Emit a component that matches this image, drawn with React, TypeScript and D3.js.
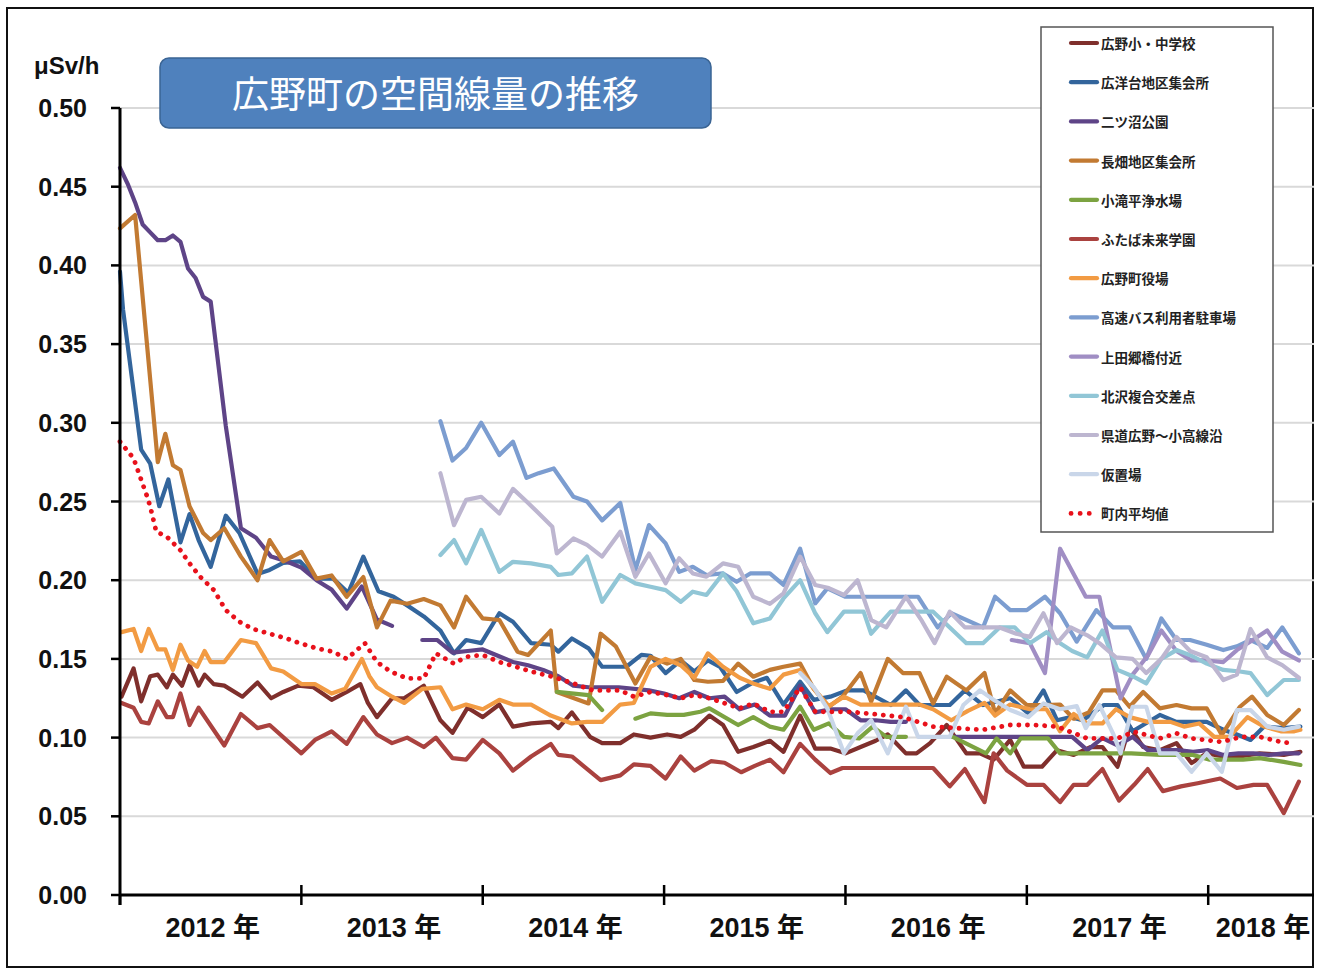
import React from "react";
import * as d3 from "d3";

// months counted from January 2012 (0 = 2012-01)
const YEAR_START_MONTHS = [0, 12, 24, 36, 48, 60, 72];
const YEAR_LABELS = ["2012 年", "2013 年", "2014 年", "2015 年", "2016 年", "2017 年", "2018 年"];
const X_END_MONTH = 79;
const Y_TICKS = [0, 0.05, 0.1, 0.15, 0.2, 0.25, 0.3, 0.35, 0.4, 0.45, 0.5];
const UNIT_LABEL = "μSv/h";
const TITLE = "広野町の空間線量の推移";

const SERIES_NAMES = [
  "広野小・中学校", "広洋台地区集会所", "二ツ沼公園", "長畑地区集会所", "小滝平浄水場",
  "ふたば未来学園", "広野町役場", "高速バス利用者駐車場", "上田郷橋付近", "北沢複合交差点",
  "県道広野～小高線沿", "仮置場", "町内平均値",
];
const SERIES_COLORS = [
  "#7F2F2C", "#33659C", "#5E4487", "#C27A32", "#7CA341", "#AA423F", "#F29B43",
  "#7C9DD0", "#A08EC4", "#91C6D6", "#BDB6D0", "#C9D6E9", "#E8111B",
];

type P = [number, number | null];

const HIRONO_SCHOOL: P[] = [[0.1,0.126],[0.9,0.144],[1.4,0.123],[2,0.139],[2.5,0.140],[3.1,0.132],[3.5,0.140],[4.1,0.133],[4.6,0.146],[5.2,0.133],[5.6,0.140],[6.2,0.134],[6.9,0.133],[8.1,0.126],[9.1,0.135],[10,0.125],[10.8,0.129],[11.8,0.133],[12.8,0.132],[14,0.124],[15,0.129],[15.9,0.134],[16.4,0.122],[17,0.113],[18,0.125],[18.8,0.125],[20.1,0.133],[21.2,0.111],[22,0.103],[23,0.119],[24,0.113],[25.1,0.121],[26,0.107],[27.2,0.109],[28.5,0.110],[29,0.106],[29.9,0.116],[31.1,0.1005],[31.9,0.0965],[33.1,0.0965],[34,0.102],[35.1,0.100],[36.2,0.102],[37.1,0.1005],[38,0.105],[39,0.114],[39.9,0.108],[40.9,0.091],[41.9,0.094],[43,0.098],[43.9,0.091],[45,0.114],[46,0.093],[47,0.093],[48,0.090],[49,0.094],[50,0.098],[50.8,0.102],[52,0.090],[52.7,0.090],[53.6,0.0965],[54.7,0.108],[56,0.090],[56.9,0.090],[57.8,0.086],[58.9,0.0985],[59.8,0.0815],[61,0.0815],[62,0.092],[63.1,0.089],[64.2,0.094],[65,0.094],[66,0.0815],[66.8,0.107],[67.7,0.094],[68.8,0.092],[69.9,0.0965],[70.9,0.0838],[71.9,0.090],[73,0.088],[74.1,0.088],[75.4,0.090],[77,0.089],[78.1,0.091]];

const KOYODAI: P[] = [[0,0.396],[0.2,0.372],[1.4,0.283],[2,0.274],[2.6,0.247],[3.2,0.264],[4,0.224],[4.6,0.242],[5.2,0.2255],[6,0.2085],[7,0.241],[7.9,0.230],[9.1,0.204],[9.9,0.2065],[10.8,0.211],[11.9,0.212],[13,0.201],[14.1,0.201],[15.1,0.192],[16.1,0.215],[17.1,0.193],[18.1,0.1895],[19,0.184],[20.1,0.177],[21.2,0.168],[22.1,0.1535],[22.9,0.162],[23.9,0.160],[25.1,0.179],[26,0.1736],[27.2,0.160],[28.5,0.159],[29,0.1546],[29.9,0.163],[31,0.1567],[31.9,0.145],[33.5,0.145],[34.5,0.1525],[35.1,0.152],[36.1,0.141],[37.1,0.149],[38,0.142],[38.9,0.149],[39.7,0.145],[40.8,0.129],[41.9,0.135],[42.8,0.138],[43.9,0.121],[45,0.1355],[45.9,0.124],[47,0.126],[48.1,0.130],[49.2,0.130],[51,0.1207],[52,0.130],[52.9,0.1207],[54.9,0.1207],[55.9,0.130],[57.1,0.1207],[58.9,0.125],[60.1,0.1154],[61.1,0.130],[62,0.111],[62.9,0.113],[63.7,0.111],[65.1,0.1207],[66,0.1207],[67,0.104],[68.8,0.1144],[69.9,0.110],[70.9,0.110],[71.9,0.110],[73,0.105],[73.9,0.102],[74.8,0.0985],[75.7,0.107],[77,0.106],[78.1,0.107]];

const FUTATSUNUMA: P[] = [[0,0.462],[0.5,0.452],[1,0.440],[1.5,0.426],[2,0.421],[2.5,0.416],[3,0.416],[3.5,0.419],[4,0.415],[4.5,0.398],[5,0.392],[5.5,0.380],[6,0.377],[7,0.298],[8,0.233],[9,0.227],[10,0.215],[11,0.212],[12,0.208],[13,0.200],[14,0.194],[15,0.182],[16,0.196],[17,0.175],[18,0.171],[19,null],[20,0.162],[21,0.162],[22,0.154],[23,0.155],[24,0.156],[25,0.152],[26,0.148],[27,0.146],[28,0.143],[29,0.139],[30,0.133],[31,0.132],[32,0.132],[33,0.132],[35,0.130],[36,0.128],[37,0.125],[38,0.129],[39,0.125],[40,0.126],[41,0.118],[42,0.121],[43,0.114],[44,0.114],[45,0.133],[46,0.116],[47,0.118],[48,0.118],[49,0.111],[50,0.111],[51,0.110],[52,0.110],[53,null],[55.1,0.1005],[57,0.1005],[59,0.1005],[61,0.1005],[63,0.1005],[64,0.092],[65,0.0997],[66,0.095],[67,0.1005],[68,0.092],[69,0.092],[70,0.092],[71,0.091],[72,0.092],[73,0.089],[74,0.090],[75,0.090],[76,0.089],[77,0.090],[78,0.090]];

const NAGAHATA: P[] = [[0,0.4235],[1,0.432],[2.5,0.275],[3,0.293],[3.5,0.273],[4,0.270],[4.6,0.247],[5.5,0.230],[6,0.2255],[6.9,0.233],[8,0.215],[9.1,0.200],[9.9,0.2255],[10.8,0.212],[12,0.218],[13,0.201],[14,0.203],[15,0.1895],[16.1,0.202],[17,0.170],[17.9,0.187],[19,0.185],[20.1,0.188],[21.2,0.184],[22.1,0.170],[22.9,0.1895],[24,0.1757],[25.1,0.1747],[26.3,0.1546],[27,0.1525],[28.5,0.168],[28.9,0.129],[31,0.1217],[31.8,0.166],[32.8,0.158],[34.1,0.1344],[35.1,0.1513],[36.2,0.147],[37.1,0.150],[38,0.1366],[38.9,0.1355],[39.9,0.136],[40.9,0.147],[41.9,0.1387],[43,0.143],[43.9,0.145],[45,0.147],[45.9,0.131],[46.9,0.1196],[47.8,0.126],[49,0.141],[49.7,0.123],[50.8,0.150],[51.8,0.141],[52.9,0.141],[53.8,0.1217],[54.7,0.1387],[56,0.130],[57.2,0.141],[57.9,0.1154],[58.9,0.130],[60,0.1207],[61.1,0.1207],[62.2,0.121],[63.1,0.112],[64.1,0.116],[65,0.130],[65.9,0.130],[66.8,0.1196],[67.7,0.129],[68.8,0.1186],[69.9,0.1207],[70.9,0.1186],[71.9,0.1186],[72.9,0.1017],[74.1,0.1196],[74.9,0.126],[75.9,0.1144],[77,0.108],[78,0.1175]];

const KOTAKIDAIRA: P[] = [[28.9,0.129],[31,0.127],[31.9,0.1175],[33,null],[34.1,0.112],[35.1,0.1154],[36.2,0.1144],[37.3,0.1144],[38.4,0.1164],[39,0.1186],[40.9,0.108],[41.9,0.113],[43,0.107],[43.9,0.105],[45,0.1196],[45.9,0.105],[46.9,0.109],[47.9,0.1005],[48.9,0.0995],[49.8,0.107],[50.7,0.1005],[52,0.1005],[53,null],[55.1,0.1005],[57.3,0.090],[58,0.0995],[58.9,0.090],[59.6,0.0995],[61.4,0.0995],[62.2,0.090],[65,0.090],[66.9,0.090],[68.8,0.089],[71,0.089],[72.1,0.086],[74.3,0.086],[75.4,0.087],[77,0.0846],[78.1,0.0826]];

const FUTABA: P[] = [[0.1,0.122],[0.9,0.119],[1.4,0.110],[1.9,0.109],[2.5,0.123],[3.1,0.113],[3.5,0.113],[4,0.128],[4.6,0.108],[5.2,0.119],[6.9,0.095],[8,0.115],[9.1,0.106],[9.9,0.108],[12,0.090],[12.9,0.0985],[14,0.104],[15,0.096],[16.1,0.113],[16.5,0.108],[17,0.102],[18,0.0965],[19,0.100],[20.1,0.094],[20.9,0.100],[22,0.087],[22.9,0.086],[24,0.0985],[25.1,0.090],[26,0.079],[27.2,0.088],[28.5,0.096],[29,0.089],[29.9,0.088],[31.8,0.073],[33.1,0.076],[34,0.083],[35.1,0.082],[36.1,0.074],[37.1,0.088],[38,0.079],[39.1,0.085],[40,0.084],[41.1,0.078],[42,0.082],[43,0.086],[43.9,0.078],[45,0.096],[46,0.086],[47,0.0775],[47.8,0.0807],[53.8,0.0807],[54.9,0.069],[55.9,0.080],[57.2,0.059],[57.8,0.090],[58.7,0.079],[60,0.070],[61.1,0.070],[62.2,0.059],[63.1,0.070],[64,0.070],[65,0.080],[66.1,0.060],[67.1,0.070],[68,0.080],[69,0.066],[70.2,0.069],[71.3,0.071],[72.8,0.074],[73.9,0.068],[75,0.070],[75.9,0.070],[77,0.052],[78,0.072]];

const TOWN_HALL: P[] = [[0.1,0.167],[0.9,0.169],[1.4,0.155],[1.9,0.169],[2.5,0.156],[3,0.156],[3.5,0.143],[4,0.159],[4.5,0.149],[5.1,0.145],[5.6,0.155],[6,0.148],[6.9,0.148],[8,0.162],[9,0.160],[10,0.144],[10.8,0.142],[12,0.134],[12.9,0.134],[14,0.128],[14.9,0.131],[16,0.150],[16.5,0.139],[17,0.132],[18,0.126],[18.8,0.122],[20,0.131],[21.2,0.132],[22,0.118],[22.9,0.121],[24,0.118],[25.1,0.124],[26,0.121],[27.2,0.121],[28.5,0.114],[29.9,0.109],[30.9,0.110],[31.9,0.110],[33.1,0.121],[34,0.122],[35.1,0.145],[36.1,0.150],[37.1,0.146],[38,0.138],[38.9,0.1535],[39.9,0.145],[41,0.138],[42,0.134],[43,0.131],[43.9,0.140],[45,0.143],[45.9,0.131],[46.9,0.120],[47.9,0.126],[49,0.121],[52.9,0.121],[53.8,0.118],[55,0.111],[56.1,0.117],[57.2,0.122],[57.9,0.114],[58.9,0.121],[60.2,0.118],[61.3,0.118],[62.2,0.104],[63.1,0.115],[64,0.109],[65,0.109],[65.9,0.118],[66.8,0.113],[68,0.110],[69.5,0.110],[70.4,0.107],[71.4,0.109],[72.4,0.1005],[73.4,0.1005],[74.6,0.113],[75.7,0.107],[76.8,0.104],[77.7,0.104],[78.1,0.105]];

const BUS_PARKING: P[] = [[21.2,0.301],[22,0.276],[22.9,0.284],[23.9,0.300],[25.1,0.2795],[26,0.288],[26.9,0.265],[27.7,0.268],[28.7,0.271],[30,0.253],[30.9,0.250],[31.9,0.238],[33.1,0.249],[34.1,0.2065],[35,0.235],[36.1,0.2234],[37,0.2053],[37.9,0.2085],[38.8,0.2033],[39.9,0.2043],[40.8,0.199],[41.7,0.2043],[43,0.2043],[43.9,0.197],[45,0.220],[46,0.1853],[46.8,0.1948],[48,0.1895],[52.8,0.1895],[54.1,0.170],[55,0.179],[57.1,0.170],[57.9,0.1895],[58.9,0.181],[60,0.181],[61.2,0.1895],[62.2,0.179],[63.3,0.161],[64.6,0.181],[65.7,0.170],[66.8,0.170],[67.9,0.150],[68.9,0.1757],[69.9,0.162],[70.8,0.162],[71.9,0.159],[73,0.1556],[73.9,0.158],[74.8,0.162],[75.9,0.157],[76.9,0.170],[78,0.1535]];

const KAMIDAGO: P[] = [[59,0.162],[60.2,0.160],[61.2,0.141],[62.2,0.220],[63.9,0.1895],[64.8,0.1895],[66.2,0.125],[67,0.140],[68,0.152],[68.9,0.168],[69.9,0.155],[70.9,0.149],[71.9,0.149],[73,0.148],[73.9,0.1556],[74.8,0.161],[75.9,0.168],[76.9,0.1546],[78,0.149]];

const KITAZAWA: P[] = [[21.2,0.216],[22.1,0.2255],[22.9,0.2107],[23.9,0.232],[25.1,0.2053],[26,0.2117],[27.2,0.2107],[28.5,0.2085],[29,0.2033],[29.9,0.2043],[30.9,0.215],[31.9,0.1863],[33.1,0.2033],[34.1,0.198],[35.1,0.1958],[36.1,0.1937],[37.1,0.1863],[37.9,0.1927],[38.8,0.1906],[39.9,0.2043],[40.8,0.193],[41.9,0.1726],[43,0.1757],[43.9,0.1884],[45,0.200],[46,0.179],[46.8,0.167],[47.9,0.180],[49.2,0.180],[49.7,0.166],[51,0.180],[53.8,0.180],[54.9,0.170],[56,0.160],[57.1,0.160],[58.2,0.170],[59.2,0.170],[60.2,0.160],[61.3,0.167],[62.2,0.160],[63,0.155],[64,0.151],[65,0.168],[66,0.143],[67,0.139],[67.9,0.1344],[68.9,0.150],[69.9,0.1556],[70.9,0.152],[71.9,0.147],[73,0.143],[74.1,0.142],[74.8,0.141],[75.9,0.127],[77,0.1366],[78,0.1366]];

const PREF_ROAD: P[] = [[21.2,0.268],[22.1,0.235],[22.9,0.251],[23.9,0.253],[25.1,0.2424],[26,0.258],[26.9,0.250],[27.6,0.2435],[28.6,0.234],[28.9,0.217],[30,0.2265],[30.9,0.2224],[31.9,0.215],[33.1,0.2308],[34.1,0.2022],[35,0.217],[36.1,0.198],[37,0.2139],[37.9,0.2043],[38.8,0.2022],[39.9,0.2107],[40.9,0.2085],[41.9,0.1895],[43,0.185],[43.9,0.1916],[45,0.215],[46,0.197],[46.9,0.195],[47.9,0.1906],[48.8,0.200],[49.7,0.1747],[50.7,0.170],[52,0.1895],[53,0.175],[53.9,0.160],[54.9,0.180],[55.9,0.170],[57.1,0.170],[58.2,0.170],[59.3,0.166],[60.2,0.164],[61.1,0.179],[62,0.160],[62.9,0.170],[64,0.165],[64.8,0.160],[65.9,0.151],[67,0.150],[67.9,0.141],[68.9,0.150],[69.9,0.164],[70.8,0.155],[71.9,0.151],[73,0.1366],[73.9,0.140],[74.8,0.169],[75.9,0.151],[76.9,0.146],[78,0.138]];

const TEMP_STORAGE: P[] = [[45,0.141],[45.9,0.132],[46.8,0.1186],[47.9,0.090],[48.8,0.1027],[49.7,0.111],[50.8,0.090],[52,0.1196],[52.8,0.1005],[54.9,0.1005],[55.8,0.1207],[56.9,0.130],[57.8,0.124],[58.9,0.1175],[60.1,0.113],[61.1,0.1217],[62.2,0.118],[63.3,0.120],[63.9,0.106],[64.8,0.1207],[65.7,0.1027],[66.2,0.090],[67,0.1196],[67.9,0.1196],[68.8,0.090],[69.9,0.090],[70.9,0.0783],[71.9,0.090],[72.9,0.0783],[73.9,0.1175],[74.8,0.1175],[75.9,0.107],[77,0.105],[78,0.107]];

const TOWN_AVERAGE: P[] = [[0,0.288],[0.9,0.2774],[1.8,0.253],[2,0.2467],[2.4,0.2308],[3.1,0.2276],[4,0.219],[4.6,0.2107],[5.3,0.2022],[6.2,0.1938],[7,0.181],[7.9,0.1736],[8.8,0.169],[9.9,0.166],[11,0.163],[11.9,0.160],[13,0.1567],[14.1,0.1546],[15,0.150],[16.2,0.160],[17,0.148],[17.9,0.142],[19,0.1376],[20.1,0.1376],[20.9,0.1535],[22.1,0.147],[22.9,0.1513],[24,0.1525],[25.1,0.148],[26.2,0.145],[27.2,0.142],[28.6,0.1387],[30,0.1344],[31.3,0.130],[33.1,0.130],[34,0.126],[35.1,0.129],[36.2,0.127],[37.1,0.125],[38,0.127],[39,0.125],[41,0.1186],[41.9,0.1217],[43,0.1164],[43.9,0.1164],[45,0.132],[46,0.1164],[47,0.1164],[48.3,0.1164],[49.4,0.1154],[51.8,0.113],[53.8,0.107],[55.4,0.106],[57.1,0.105],[58.9,0.108],[60.5,0.108],[62,0.107],[64,0.0995],[66,0.0995],[67.1,0.1037],[68.8,0.0995],[69.9,0.1027],[70.9,0.0995],[72.9,0.0973],[74.2,0.1005],[75.4,0.1005],[76.8,0.0973],[77.6,0.0963]];

const SERIES_DATA: P[][] = [
  HIRONO_SCHOOL, KOYODAI, FUTATSUNUMA, NAGAHATA, KOTAKIDAIRA, FUTABA, TOWN_HALL,
  BUS_PARKING, KAMIDAGO, KITAZAWA, PREF_ROAD, TEMP_STORAGE, TOWN_AVERAGE,
];

const W = 1317;
const H = 973;
const PLOT = { left: 120, right: 1314, top: 108, bottom: 895 };

const JP = "'Noto Sans CJK JP', 'Noto Sans', sans-serif";
const LAT = "'Liberation Sans', Arial, 'Noto Sans CJK JP', sans-serif";

export default function App() {
  const x = d3.scaleLinear().domain([0, X_END_MONTH]).range([PLOT.left, PLOT.right]);
  const y = d3.scaleLinear().domain([0, 0.5]).range([PLOT.bottom, PLOT.top]);
  const line = d3
    .line<P>()
    .defined((d) => d[1] !== null)
    .x((d) => x(d[0]))
    .y((d) => y(d[1] as number));

  const legendX = 1041;
  const legendY = 27;
  const rowH = 39.2;

  return (
    <svg
      width={W}
      height={H}
      viewBox={`0 0 ${W} ${H}`}
      style={{ position: "absolute", left: 0, top: 0, display: "block", background: "#fff" }}
    >
      <rect x={0} y={0} width={W} height={H} fill="#fff" />
      <rect x={7} y={8} width={1306} height={959} fill="none" stroke="#111" strokeWidth={2} />

      {/* gridlines */}
      {Y_TICKS.filter((t) => t > 0).map((t) => (
        <line key={"g" + t} x1={PLOT.left} x2={PLOT.right} y1={y(t)} y2={y(t)} stroke="#D9D9D9" strokeWidth={2} />
      ))}

      {/* series */}
      {SERIES_DATA.map((data, i) => {
        const isAvg = i === SERIES_DATA.length - 1;
        return (
          <path
            key={"s" + i}
            d={line(data) || ""}
            fill="none"
            stroke={SERIES_COLORS[i]}
            strokeWidth={isAvg ? 4.8 : 4.2}
            strokeLinejoin="round"
            strokeLinecap="round"
            strokeDasharray={isAvg ? "0.1 8.5" : undefined}
          />
        );
      })}

      {/* y axis */}
      <line x1={PLOT.left} x2={PLOT.left} y1={PLOT.top} y2={PLOT.bottom + 10} stroke="#000" strokeWidth={3} />
      {Y_TICKS.map((t) => (
        <g key={"yt" + t}>
          <line x1={PLOT.left - 9} x2={PLOT.left} y1={y(t)} y2={y(t)} stroke="#000" strokeWidth={2.5} />
          <text
            x={87}
            y={y(t)}
            textAnchor="end"
            dominantBaseline="central"
            fontFamily={LAT}
            fontWeight={700}
            fontSize={25}
            fill="#111"
          >
            {t.toFixed(2)}
          </text>
        </g>
      ))}
      <text x={34} y={74} fontFamily={LAT} fontWeight={700} fontSize={24} fill="#111">
        {UNIT_LABEL}
      </text>

      {/* x axis */}
      <line x1={PLOT.left} x2={PLOT.right} y1={PLOT.bottom} y2={PLOT.bottom} stroke="#000" strokeWidth={3} />
      {YEAR_START_MONTHS.map((m) => (
        <line
          key={"xt" + m}
          x1={x(m)}
          x2={x(m)}
          y1={m === 0 ? PLOT.bottom : PLOT.bottom - 10}
          y2={PLOT.bottom + 10}
          stroke="#000"
          strokeWidth={2.5}
        />
      ))}
      {YEAR_LABELS.map((lab, i) => {
        const a = YEAR_START_MONTHS[i];
        const b = Math.min(a + 12, X_END_MONTH);
        return (
          <text
            key={"xl" + i}
            x={x((a + b) / 2) + 2}
            y={937}
            textAnchor="middle"
            fontFamily={LAT}
            fontWeight={700}
            fontSize={27}
            fill="#111"
          >
            {lab}
          </text>
        );
      })}

      {/* title box */}
      <rect x={160} y={58} width={551} height={70} rx={9} ry={9} fill="#4F81BD" stroke="#3A6494" strokeWidth={1.5} />
      <text
        x={435.5}
        y={92}
        textAnchor="middle"
        dominantBaseline="central"
        fontFamily={JP}
        fontWeight={400}
        fontSize={37}
        fill="#fff"
      >
        {TITLE}
      </text>

      {/* legend */}
      <rect x={legendX} y={legendY} width={232} height={505} fill="#fff" stroke="#555" strokeWidth={1.5} />
      {SERIES_NAMES.map((name, i) => {
        const ry = 43 + i * rowH;
        const isAvg = i === SERIES_NAMES.length - 1;
        return (
          <g key={"lg" + i}>
            <line
              x1={1071}
              x2={1097}
              y1={ry}
              y2={ry}
              stroke={SERIES_COLORS[i]}
              strokeWidth={isAvg ? 4.8 : 4.2}
              strokeLinecap="round"
              strokeDasharray={isAvg ? "0.1 9" : undefined}
            />
            <text
              x={1101}
              y={ry}
              dominantBaseline="central"
              fontFamily={JP}
              fontWeight={700}
              fontSize={13.5}
              fill="#222"
            >
              {name}
            </text>
          </g>
        );
      })}
    </svg>
  );
}
